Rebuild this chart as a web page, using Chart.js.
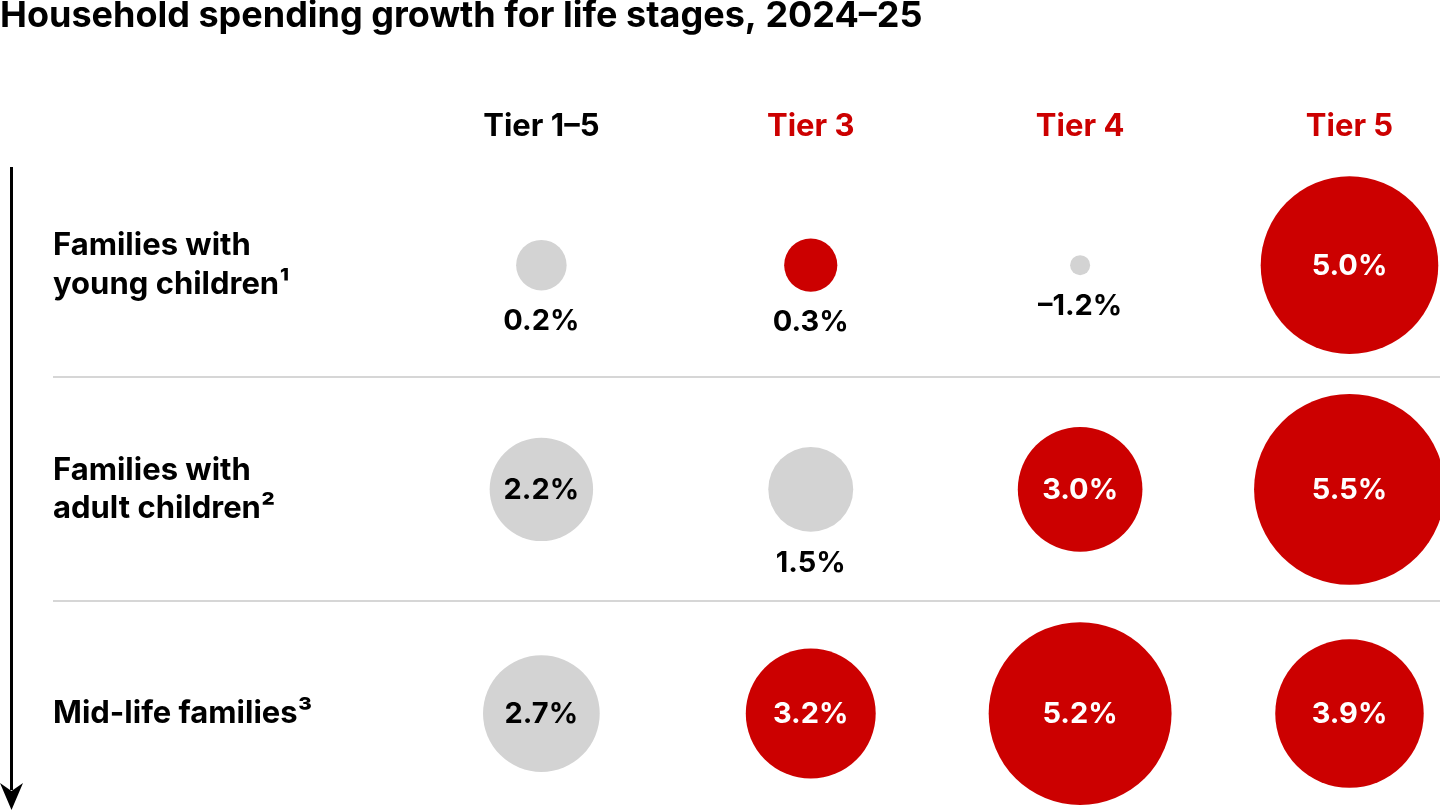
<!DOCTYPE html>
<html>
<head>
<meta charset="utf-8">
<title>Household spending growth for life stages</title>
<style>
  html, body { margin: 0; padding: 0; background: #fff; }
  #wrap { width: 1440px; height: 810px; }
</style>
<script src="https://cdn.jsdelivr.net/npm/chart.js@4.4.1/dist/chart.umd.min.js"></script>
</head>
<body>
<div id="wrap"><canvas id="myChart"></canvas></div>
<script>
// tiers across the top, life stages down the side
const columns = ['Tier 1–5', 'Tier 3', 'Tier 4', 'Tier 5'];
const rows = [
    ['Families with', 'young children¹'],
    ['Families with', 'adult children²'],
    ['Mid-life families³']
];
// spending growth 2024-25, %, one array per life stage (same order as columns)
const youngChildren = [0.2, 0.3, -1.2, 5.0];
const adultChildren = [2.2, 1.5, 3.0, 5.5];
const midLife = [2.7, 3.2, 5.2, 3.9];

const RED = '#cc0000';
const GREY = '#d3d3d3';
const FONT = 'Inter, "Noto Sans", sans-serif';

// bubble radius grows with the value (never smaller than a dot)
function bubbleSize(v) {
    return Math.max(10, 22.6 + 13.24 * v);
}

function fmt(v) {
    return (v < 0 ? '–' : '') + Math.abs(v).toFixed(1) + '%';
}

// a tier is red when it beats the all-tier figure of its row
function rowDataset(values, rowIndex) {
    const base = values[0];
    return {
        label: rows[rowIndex].join(' '),
        data: values.map((v, i) => ({ x: i, y: rowIndex, v: v })),
        backgroundColor: values.map((v, i) => (i > 0 && v > base) ? RED : GREY),
        borderWidth: 0,
        radius: ctx => bubbleSize(ctx.raw.v),
        hoverRadius: 0,
        clip: false
    };
}

// no extra room for the outer labels: the rows fill the whole height
function noLabelPadding(axis) {
    axis.paddingTop = 0;
    axis.paddingBottom = 0;
    axis.paddingLeft = 0;
    axis.paddingRight = 0;
}

const valueLabels = {
    id: 'valueLabels',
    afterDatasetsDraw(chart) {
        const ctx = chart.ctx;
        ctx.save();
        ctx.font = '700 29px ' + FONT;
        ctx.textAlign = 'center';
        ctx.textBaseline = 'middle';
        chart.data.datasets.forEach((ds, di) => {
            const meta = chart.getDatasetMeta(di);
            meta.data.forEach((el, i) => {
                const v = ds.data[i].v;
                const r = el.options.radius;
                if (r >= 45) {
                    ctx.fillStyle = ds.backgroundColor[i] === RED ? '#fff' : '#000';
                    ctx.fillText(fmt(v), el.x, el.y + 1);
                } else {
                    ctx.fillStyle = '#000';
                    ctx.fillText(fmt(v), el.x, el.y + r + 31);
                }
            });
        });
        ctx.restore();
    }
};

const sideArrow = {
    id: 'sideArrow',
    afterDraw(chart) {
        const ctx = chart.ctx;
        const x = 11.5;
        const top = chart.chartArea.top + 14;
        const bottom = chart.height;
        ctx.save();
        ctx.strokeStyle = '#000';
        ctx.fillStyle = '#000';
        ctx.lineWidth = 3;
        ctx.beginPath();
        ctx.moveTo(x, top);
        ctx.lineTo(x, bottom - 20);
        ctx.stroke();
        ctx.beginPath();
        ctx.moveTo(x - 11.5, bottom - 27);
        ctx.lineTo(x, bottom - 19);
        ctx.lineTo(x + 11.5, bottom - 27);
        ctx.lineTo(x, bottom);
        ctx.closePath();
        ctx.fill();
        ctx.restore();
    }
};

const ctx = document.getElementById('myChart').getContext('2d');
const myChart = new Chart(ctx, {
    type: 'bubble',
    data: {
        datasets: [
            rowDataset(youngChildren, 0),
            rowDataset(adultChildren, 1),
            rowDataset(midLife, 2)
        ]
    },
    options: {
        responsive: true,
        maintainAspectRatio: false,
        animation: false,
        events: [],
        layout: { padding: 0, autoPadding: false },
        plugins: {
            legend: { display: false },
            tooltip: { enabled: false },
            title: {
                display: true,
                text: 'Household spending growth for life stages, 2024–25',
                align: 'start',
                color: '#000',
                font: { family: FONT, size: 36, weight: '700', lineHeight: 0.92 },
                padding: { top: 0, bottom: 67.9 }
            }
        },
        scales: {
            x: {
                type: 'linear',
                position: 'top',
                min: -1.813,
                max: 3.336,
                afterBuildTicks: axis => {
                    axis.ticks = columns.map((c, i) => ({ value: i }));
                },
                afterFit: noLabelPadding,
                grid: { display: false, drawTicks: false },
                border: { display: false },
                ticks: {
                    padding: 7.4,
                    autoSkip: false,
                    maxRotation: 0,
                    color: c => c.index === 0 ? '#000' : RED,
                    font: { family: FONT, size: 31, weight: '700', lineHeight: 1.2 },
                    callback: v => columns[v]
                }
            },
            y: {
                type: 'linear',
                reverse: true,
                min: -0.5,
                max: 2.43,
                afterBuildTicks: axis => {
                    axis.ticks = [0, 0.5, 1, 1.5, 2].map(v => ({ value: v }));
                },
                afterFit: axis => {
                    axis.width = 53;
                    noLabelPadding(axis);
                },
                grid: {
                    drawTicks: false,
                    lineWidth: 2,
                    color: c => (c.tick && c.tick.value % 1 !== 0) ? '#d6d6d6' : 'rgba(0,0,0,0)'
                },
                border: { display: false },
                ticks: {
                    mirror: true,
                    padding: 0,
                    autoSkip: false,
                    color: '#000',
                    font: { family: FONT, size: 31, weight: '700', lineHeight: 1.23 },
                    callback: v => (v % 1 === 0 ? rows[v] : '')
                }
            }
        }
    },
    plugins: [valueLabels, sideArrow]
});
</script>
</body>
</html>
